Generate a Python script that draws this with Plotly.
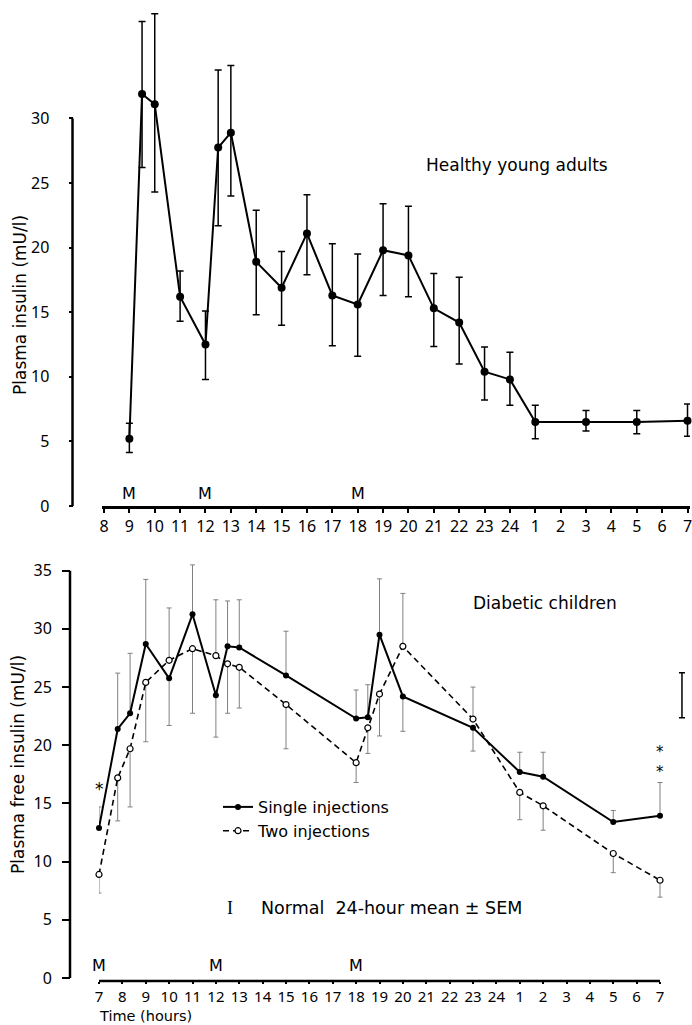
import plotly.graph_objects as go

W, H = 692, 1025

# ---------------- Top panel: healthy young adults ----------------
hy_hours = [9, 9.5, 10, 11, 12, 12.5, 13, 14, 15, 16, 17, 18, 19, 20, 21, 22, 23, 24, 25, 27, 29, 31]
hy_insulin = [5.2, 31.9, 31.1, 16.2, 12.5, 27.75, 28.9, 18.9, 16.9, 21.1, 16.3, 15.6,
              19.8, 19.4, 15.3, 14.2, 10.4, 9.8, 6.5, 6.5, 6.5, 6.6]
hy_err_up = [1.2, 5.6, 7.0, 2.0, 2.6, 6.0, 5.2, 4.0, 2.8, 3.0, 4.0, 3.9,
             3.6, 3.8, 2.7, 3.5, 1.9, 2.1, 1.3, 0.9, 0.9, 1.3]
hy_err_down = [1.05, 5.7, 6.8, 1.9, 2.7, 6.05, 4.9, 4.1, 2.9, 3.2, 3.9, 4.0,
               3.5, 3.2, 2.95, 3.2, 2.2, 2.0, 1.3, 0.7, 0.9, 1.2]
top_tick_vals = list(range(8, 32))
top_tick_text = [str(h) for h in range(8, 25)] + [str(h) for h in range(1, 8)]
top_y_ticks = [0, 5, 10, 15, 20, 25, 30]
top_meals = [9, 12, 18]

# ---------------- Bottom panel: diabetic children ----------------
dc_hours = [7, 7.8, 8.33, 9, 10, 11, 12, 12.5, 13, 15, 18, 18.5, 19, 20, 23, 25, 26, 29, 31]
single_vals = [12.9, 21.4, 22.75, 28.7, 25.75, 31.25, 24.3, 28.5, 28.4, 26.0, 22.3, 22.4,
               29.5, 24.2, 21.5, 17.7, 17.3, 13.4, 13.95]
single_err_up = [1.8, 4.8, 5.15, 5.55, 0, 4.25, 0, 3.9, 4.1, 3.8, 2.45, 2.8,
                 4.8, 0, 0, 1.7, 2.1, 1.0, 2.85]
single_err_down = [0, 0, 0, 0, 4.05, 0, 3.6, 0, 0, 0, 0, 0,
                   0, 3.0, 2.0, 0, 0, 0, 0]
two_vals = [8.9, 17.2, 19.7, 25.4, 27.3, 28.3, 27.7, 27.0, 26.7, 23.5, 18.5, 21.5,
            24.4, 28.5, 22.25, 15.95, 14.8, 10.7, 8.4]
two_err_up = [0, 0, 0, 0, 4.5, 0, 4.8, 0, 0, 0, 0, 0,
              0, 4.55, 2.75, 0, 0, 0, 0]
two_err_down = [1.6, 3.7, 5.0, 5.1, 0, 5.55, 0, 4.25, 3.5, 3.8, 1.7, 2.2,
                3.6, 0, 0, 2.35, 2.1, 1.65, 1.45]
bot_tick_vals = list(range(7, 32))
bot_tick_text = [str(h) for h in range(7, 25)] + [str(h) for h in range(1, 8)]
bot_y_ticks = [0, 5, 10, 15, 20, 25, 30, 35]
bot_meals = [7, 12, 18]
normal_x = [31.94]
normal_mean = [24.3]
normal_sem = [1.93]
single_star_hours = [7]
double_star_hours = [31]

FONT = "DejaVu Sans"
TICKFONT = "Noto Sans"


def px_x(px):
    return px / W


def px_y(py):
    return 1 - py / H


# pixel calibration of the two panels
TOP_ZERO, TOP_PPU, TOP_MAX = 506.0, 12.917, 39.0
TOP_X0, TOP_PPH = 104.0, 25.37
BOT_ZERO, BOT_PPU, BOT_MAX = 978.0, 11.637, 36.6
BOT_X0, BOT_PPH = 99.0, 23.375

fig = go.Figure()

fig.add_trace(go.Scatter(
    x=hy_hours, y=hy_insulin, mode="lines+markers", xaxis="x", yaxis="y",
    line=dict(color="black", width=2), marker=dict(size=8, color="black"),
    error_y=dict(type="data", symmetric=False, array=hy_err_up, arrayminus=hy_err_down,
                 color="black", thickness=1.5, width=3.5),
    showlegend=False, cliponaxis=False))

fig.add_trace(go.Scatter(
    x=dc_hours, y=single_vals, mode="lines+markers", xaxis="x2", yaxis="y2",
    name="Single injections",
    line=dict(color="black", width=2), marker=dict(size=6, color="black"),
    error_y=dict(type="data", symmetric=False, array=single_err_up, arrayminus=single_err_down,
                 color="#808080", thickness=1, width=2.5),
    cliponaxis=False))

fig.add_trace(go.Scatter(
    x=dc_hours, y=two_vals, mode="lines+markers", xaxis="x2", yaxis="y2",
    name="Two injections",
    line=dict(color="black", width=1.6, dash="6px,4px"),
    marker=dict(size=6, color="white", line=dict(color="black", width=1.2)),
    error_y=dict(type="data", symmetric=False, array=two_err_up, arrayminus=two_err_down,
                 color="#808080", thickness=1, width=2.5),
    cliponaxis=False))

fig.add_trace(go.Scatter(
    x=normal_x, y=normal_mean, mode="markers", xaxis="x2", yaxis="y2",
    marker=dict(size=1, color="rgba(0,0,0,0)"),
    error_y=dict(type="data", array=normal_sem, color="black", thickness=1.5, width=3),
    showlegend=False))

axis_common = dict(showgrid=False, zeroline=False, ticks="outside", tickwidth=2,
                   tickcolor="black", automargin=False, ticklabeloverflow="allow")
tf16 = dict(family=TICKFONT, size=16, color="black")
tf15 = dict(family=TICKFONT, size=15, color="black")

fig.update_layout(
    width=W, height=H, autosize=False, template="none",
    margin=dict(l=0, r=0, t=0, b=0, pad=0),
    paper_bgcolor="white", plot_bgcolor="rgba(0,0,0,0)",
    font=dict(family=FONT, size=16, color="black"),
    xaxis=dict(domain=[px_x(TOP_X0 - 2), px_x(690)],
               range=[8 - 2 / TOP_PPH, 8 + (690 - TOP_X0) / TOP_PPH], anchor="free",
               position=px_y(507), tickmode="array", tickvals=top_tick_vals,
               ticktext=top_tick_text, ticklen=4, showline=True, linewidth=2.5,
               linecolor="black", tickfont=tf16, **axis_common),
    yaxis=dict(domain=[px_y(TOP_ZERO), px_y(TOP_ZERO - TOP_MAX * TOP_PPU)],
               range=[0, TOP_MAX], anchor="free", position=px_x(72.5),
               tickmode="array", tickvals=top_y_ticks, ticklen=4, showline=False,
               ticklabelstandoff=16, tickfont=tf16, **axis_common),
    xaxis2=dict(domain=[px_x(BOT_X0), 1.0],
                range=[7, 7 + (W - BOT_X0) / BOT_PPH], anchor="free",
                position=px_y(981), tickmode="array", tickvals=bot_tick_vals,
                ticktext=bot_tick_text, ticklen=2, showline=False, tickfont=tf15,
                **axis_common),
    yaxis2=dict(domain=[px_y(BOT_ZERO), px_y(BOT_ZERO - BOT_MAX * BOT_PPU)],
                range=[0, BOT_MAX], anchor="free", position=px_x(70),
                tickmode="array", tickvals=bot_y_ticks, ticklen=8, showline=False,
                ticklabelstandoff=7, tickfont=tf16, **axis_common),
    legend=dict(x=px_x(218), y=px_y(790), xanchor="left", yanchor="top",
                bgcolor="rgba(0,0,0,0)", font=dict(family=FONT, size=16, color="black"),
                tracegroupgap=0),
    showlegend=True,
)

shapes = [
    dict(type="line", xref="paper", yref="y", x0=px_x(72.5), x1=px_x(72.5),
         y0=0, y1=max(top_y_ticks), line=dict(color="black", width=2.5)),
    dict(type="line", xref="paper", yref="y2", x0=px_x(70), x1=px_x(70),
         y0=0, y1=max(bot_y_ticks), line=dict(color="black", width=2.5)),
    dict(type="line", xref="x2", yref="paper", x0=min(bot_tick_vals) - 0.08,
         x1=max(bot_tick_vals), y0=px_y(981), y1=px_y(981),
         line=dict(color="black", width=2.5)),
]
fig.update_layout(shapes=shapes)


def note(text, x, y, xref="paper", yref="paper", xanchor="center", size=16,
         family=None, angle=0):
    f = dict(size=size, color="black")
    if family:
        f["family"] = family
    return dict(text=text, x=x, y=y, xref=xref, yref=yref, xanchor=xanchor,
                yanchor="middle", showarrow=False, font=f, textangle=angle)


ann = [
    note("Healthy young adults", px_x(517), px_y(165), size=17),
    note("Diabetic children", px_x(545), px_y(603), size=17),
    note("I", px_x(230), px_y(908), size=18, family="Liberation Serif"),
    note("Normal  24-hour mean ± SEM", px_x(259), px_y(908), xanchor="left", size=17.5),
    note("Plasma insulin (mU/l)", px_x(20), px_y(305), size=17, angle=-90),
    note("Plasma free insulin (mU/l)", px_x(18), px_y(765), size=17, angle=-90),
    note("Time (hours)", px_x(97), px_y(1016), xanchor="left", size=14.5),
]
for h in top_meals:
    ann.append(note("M", h, px_y(493), xref="x", size=16))
for h in bot_meals:
    ann.append(note("M", h, px_y(965), xref="x2", size=16))
for h in single_star_hours:
    yv = single_vals[dc_hours.index(h)]
    ann.append(note("*", h, yv + 3.3, xref="x2", yref="y2", size=17))
for h in double_star_hours:
    yv = single_vals[dc_hours.index(h)]
    ann.append(note("*<br>*", h, yv + 4.6, xref="x2", yref="y2", size=15))
fig.update_layout(annotations=ann)

fig.write_html(
    "out.html",
    config={"displayModeBar": False},
    post_script="document.body.style.margin='0px';document.body.style.overflow='hidden';",
)
